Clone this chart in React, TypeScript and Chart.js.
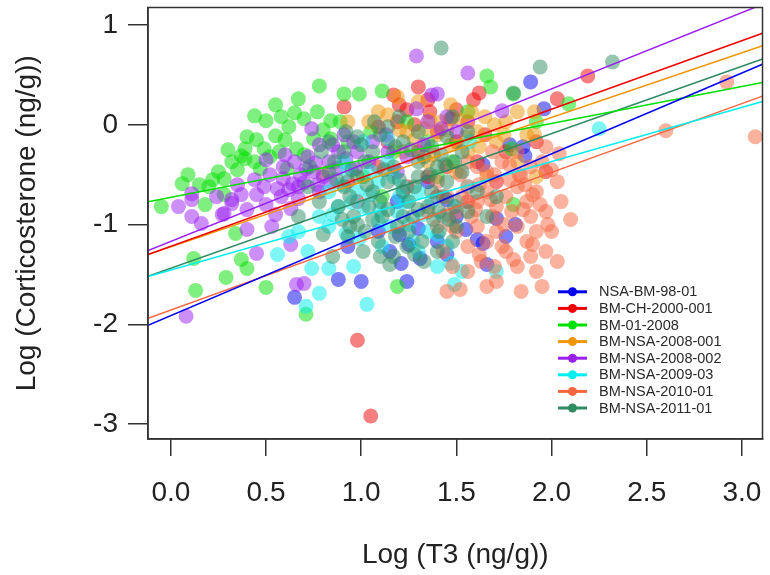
import React, { useEffect, useRef } from "react";
import { Chart, registerables } from "chart.js";

Chart.register(...registerables);
Chart.defaults.font.family = '"Liberation Sans", Arial, Helvetica, sans-serif';

const groupNames = [
  "NSA-BM-98-01",
  "BM-CH-2000-001",
  "BM-01-2008",
  "BM-NSA-2008-001",
  "BM-NSA-2008-002",
  "BM-NSA-2009-03",
  "BM-NSA-2010-01",
  "BM-NSA-2011-01",
];
const groupColors = ["#0000EE", "#EE0000", "#00E000", "#F0960A", "#9A20F0", "#00EEEE", "#F5653F", "#2E8B62"];

// regression lines: y = a + b x
const intercepts = [-1.913, -1.218, -0.726, -1.222, -1.17, -1.455, -1.857, -1.439];
const slopes = [0.811, 0.687, 0.37, 0.648, 0.765, 0.543, 0.69, 0.675];

const xTickValues = [0, 0.5, 1, 1.5, 2, 2.5, 3];
const xTickLabels = ["0.0", "0.5", "1.0", "1.5", "2.0", "2.5", "3.0"];
const yTickValues = [-3, -2, -1, 0, 1];
const yTickLabels = ["-3", "-2", "-1", "0", "1"];
const xRange = [-0.12, 3.108];
const yRange = [-3.15, 1.176];

const ptsNsaBm9801: number[][] = [
  [0.65, -1.73], [0.88, -1.55], [1.0, -1.57], [1.24, -1.57], [1.66, -1.4], [1.71, -0.94], [1.81, -1.0],
  [1.64, -1.19], [1.15, -1.27], [1.21, -1.39], [1.3, -1.04], [1.45, -1.3], [1.61, -1.15], [1.31, -1.34],
  [1.89, 0.43], [1.96, 0.16], [1.86, -0.31], [1.64, -0.4], [1.35, -0.57], [1.19, -0.77], [1.5, -0.92],
  [1.09, -1.07], [1.4, -1.17], [0.93, -1.22], [1.76, -1.12], [1.85, -0.22], [1.78, -0.2],
  [1.25, -1.2], [1.55, -1.05], [1.45, -0.75], [1.2, -1.1],
];
const ptsBmCh2000: number[][] = [
  [0.91, 0.18], [1.17, 0.3], [1.3, 0.38], [1.62, 0.32], [1.36, 0.13], [1.47, 0.06], [1.59, 0.25], [2.03, 0.26],
  [1.19, 0.03], [1.24, 0.15], [1.09, -0.02], [1.4, -0.07], [1.5, -0.17], [1.56, 0.03], [1.14, -0.17],
  [1.3, -0.27], [1.45, -0.42], [1.35, -0.52], [1.61, -0.37], [1.71, -0.57], [1.24, -0.62], [0.98, -0.77],
  [0.93, -0.57], [1.56, -0.77], [1.76, -0.27], [1.92, -0.17], [1.97, -0.47], [1.09, -0.42], [1.4, -0.72],
  [0.98, -2.16], [1.05, -2.92], [2.19, 0.49],
  [1.2, 0.2], [1.35, 0.25], [1.5, 0.15], [1.28, 0.0], [1.65, -0.1],
];
const ptsBm012008: number[][] = [
  [-0.05, -0.82], [0.06, -0.59], [0.09, -0.5], [0.18, -0.8], [0.25, -0.47], [0.28, -0.54], [0.32, -0.37],
  [0.37, -0.31], [0.39, -0.24], [0.39, -0.34], [0.4, -0.12], [0.44, 0.09], [0.44, -0.37], [0.47, -0.44],
  [0.49, -0.24], [0.5, 0.04], [0.55, -0.11], [0.57, -0.27], [0.58, 0.08], [0.61, -0.44], [0.62, -0.02],
  [0.66, -0.24], [0.67, 0.26], [0.7, 0.06], [0.75, -0.14], [0.77, 0.13], [0.78, 0.39], [0.84, 0.04],
  [0.84, -0.14], [0.89, 0.03], [0.91, 0.31], [0.99, 0.31], [1.11, 0.34],
  [0.12, -1.34], [0.13, -1.66], [0.29, -1.53], [0.34, -1.09], [0.37, -1.35], [0.4, -1.44], [0.5, -1.63],
  [0.71, -1.9], [1.19, -1.62],
  [0.93, -0.17], [1.05, -0.07], [1.17, -0.27], [1.24, 0.03], [1.35, -0.17], [1.48, -0.37], [1.4, -0.52],
  [1.01, -0.52], [1.11, -0.72],
  [1.66, 0.49], [1.68, 0.38], [1.8, 0.31], [2.09, 0.21], [1.79, -0.24], [1.8, -0.8], [1.92, 0.03], [1.56, 0.13],
  [0.2, -0.62],
  [0.3, -0.25], [0.35, -0.45], [0.45, -0.15], [0.52, -0.32], [0.6, -0.15], [0.7, -0.3], [0.65, 0.12],
  [0.55, 0.2], [0.8, -0.05], [0.22, -0.55], [0.15, -0.6], [0.28, -0.7],
];
const ptsBmNsa2008a: number[][] = [
  [1.47, 0.2], [1.09, 0.13], [1.14, 0.1], [1.33, -0.04], [1.47, -0.2], [1.5, -0.17], [1.42, 0.03], [1.4, -0.1],
  [1.87, -0.1], [1.91, -0.1], [1.7, 0.0], [1.91, 0.13], [0.8, -0.49], [1.24, -0.07], [1.3, 0.23], [1.56, -0.27],
  [1.61, -0.07], [1.71, -0.17], [1.76, 0.03], [1.22, -0.27], [1.35, -0.37], [1.5, -0.47], [1.66, -0.52],
  [1.82, -0.37], [1.19, 0.28], [1.04, 0.03], [0.93, 0.03], [1.82, 0.13], [1.92, -0.52], [1.58, 0.13],
  [1.28, -0.15], [1.36, 0.05], [1.45, -0.05], [1.55, -0.12], [1.65, 0.08], [1.52, 0.05], [1.38, -0.3],
  [1.62, -0.22], [1.2, -0.05], [1.75, -0.1],
];
const ptsBmNsa2008b: number[][] = [
  [0.11, -0.69], [0.11, -0.75], [0.11, -0.92], [0.16, -0.99], [0.32, -0.75], [0.37, -0.7], [0.28, -0.89],
  [0.4, -0.85], [0.45, -0.7], [0.49, -0.62], [0.59, -0.54], [0.64, -0.59], [0.68, -0.5], [0.71, -0.44],
  [0.78, -0.2], [0.74, -0.04], [0.91, -0.1], [0.96, -0.17], [0.92, -0.34], [0.87, -0.44], [0.97, -0.44],
  [0.84, -0.57], [0.77, -0.6], [0.56, -0.64], [0.52, -0.5], [0.67, -0.74], [0.63, -0.84], [1.29, 0.69],
  [1.37, 0.3], [1.29, 0.16], [1.13, -0.1], [1.33, -0.2], [0.08, -1.92], [0.4, -1.05], [0.45, -1.29],
  [0.53, -1.02], [0.63, -1.2], [0.66, -1.6], [0.7, -1.59], [0.27, -0.9], [0.32, -0.79], [1.56, 0.52],
  [1.74, 0.14], [1.4, 0.31], [1.42, -0.04], [0.59, -0.42], [0.65, -0.37], [0.72, -0.32], [0.78, -0.67],
  [0.83, -0.37], [0.88, -0.27], [0.67, -0.62], [0.75, -0.47], [0.8, -0.52], [0.98, -0.27], [1.04, -0.37],
  [1.06, -0.17], [1.14, -0.27], [1.19, -0.47], [1.24, -0.32], [1.35, 0.03], [1.45, 0.08], [1.5, -0.07],
  [0.04, -0.82],
  [0.5, -0.8], [0.58, -0.72], [0.55, -0.9], [0.62, -0.65], [0.7, -0.58], [0.76, -0.38], [0.85, -0.2],
  [0.6, -0.3], [0.44, -0.55], [0.35, -0.6], [0.24, -0.72], [0.5, -0.35],
];
const ptsBmNsa2009: number[][] = [
  [0.56, -1.3], [0.74, -1.44], [0.83, -1.44], [0.78, -1.69], [0.71, -1.82], [1.03, -1.8], [1.47, -1.39],
  [1.53, -1.47], [1.49, -1.6], [0.92, -1.09], [0.99, -1.14], [2.25, -0.04], [1.57, -0.17], [0.67, -1.07],
  [0.78, -0.92], [0.88, -0.82], [0.98, -0.67], [1.09, -0.57], [1.17, -0.52], [1.24, -0.77], [1.3, -0.67],
  [1.19, -0.87], [1.09, -0.97], [1.35, -1.07], [1.43, -0.92], [1.5, -0.77], [1.56, -0.62], [0.93, -0.47],
  [0.83, -0.67], [1.14, -0.37], [0.72, -1.27], [0.62, -1.12], [0.96, -1.42], [1.3, -1.27], [1.4, -1.42],
  [1.71, -1.47], [1.11, -1.22], [1.14, -0.14], [1.01, -0.17],
  [0.91, -0.37], [1.05, -0.47], [1.22, -0.62], [1.37, -0.77], [1.01, -0.82], [1.15, -1.02], [1.27, -1.17],
  [0.83, -1.02], [1.45, -1.22],
  [0.95, -0.78], [1.05, -0.7], [1.2, -0.72], [1.32, -0.9], [1.1, -0.85], [0.85, -0.9], [1.25, -1.0],
  [1.4, -1.1], [0.9, -0.6],
];
const ptsBmNsa2010: number[][] = [
  [1.4, -0.57], [1.45, -0.72], [1.5, -0.87], [1.56, -0.62], [1.61, -0.77], [1.66, -0.67], [1.71, -0.82],
  [1.76, -0.72], [1.82, -0.62], [1.87, -0.77], [1.92, -0.67], [1.97, -0.87], [1.5, -1.07], [1.56, -1.22],
  [1.61, -1.02], [1.66, -1.17], [1.71, -1.07], [1.76, -1.27], [1.82, -1.02], [1.87, -1.17], [1.92, -1.07],
  [1.97, -1.27], [1.43, -1.27], [1.48, -1.42], [1.56, -1.47], [1.63, -1.37], [1.71, -1.57], [1.82, -1.42],
  [1.92, -1.47], [1.84, -1.67], [1.95, -1.62], [1.74, -0.37], [1.82, -0.27], [1.89, -0.42], [1.97, -0.22],
  [2.03, -0.57], [2.05, -0.77], [1.61, -0.42], [1.69, -0.27], [1.56, -0.37], [1.35, -0.87], [1.4, -1.02],
  [1.45, -1.67], [2.03, -1.37], [2.0, -1.07],
  [2.6, -0.06], [2.92, 0.43], [3.07, -0.12], [2.1, -0.95], [2.04, -0.29], [1.83, -0.5], [1.9, -0.7], [1.52, -1.65],
  [1.53, -0.72], [1.69, -0.92], [1.79, -0.87], [1.89, -0.92], [1.66, -0.47], [1.84, -0.52], [1.95, -0.37],
  [1.74, -1.22], [1.58, -0.92], [1.48, -1.02], [1.89, -1.32], [1.66, -1.62],
  [1.62, -0.6], [1.7, -0.5], [1.78, -0.55], [1.86, -0.6], [1.94, -0.8], [1.6, -0.85], [1.68, -0.75],
  [1.85, -0.85], [1.75, -1.0], [1.9, -1.2], [1.62, -1.3], [1.8, -1.35], [1.7, -1.42], [1.98, -1.0],
  [1.52, -0.5], [1.45, -0.9], [2.0, -0.45], [1.78, -0.4],
];
const ptsBmNsa2011: number[][] = [
  [1.42, 0.77], [2.32, 0.63], [1.8, 0.32], [1.94, 0.58], [0.83, -0.17], [0.91, -0.27], [0.98, -0.12],
  [1.06, -0.27], [1.14, -0.02], [1.22, -0.17], [1.3, -0.07], [1.37, -0.22], [1.45, -0.12], [1.53, -0.27],
  [0.83, -0.47], [0.91, -0.62], [0.98, -0.52], [1.06, -0.67], [1.14, -0.57], [1.22, -0.67], [1.3, -0.52],
  [1.37, -0.67], [1.45, -0.57], [1.53, -0.47], [0.88, -0.82], [0.96, -0.92], [1.04, -0.82], [1.11, -0.92],
  [1.19, -1.02], [1.27, -0.92], [1.35, -0.82], [1.43, -0.72], [1.5, -1.02], [0.93, -1.12], [1.01, -1.27],
  [1.09, -1.17], [1.17, -1.32], [1.24, -1.22], [1.32, -1.17], [1.4, -1.27], [1.48, -1.17], [0.78, -0.77],
  [0.72, -0.62], [0.67, -0.92], [0.85, -1.32], [1.56, -0.87], [1.61, -0.67], [1.66, -0.92], [1.71, -0.72],
  [1.3, -0.37], [1.17, -0.42], [1.4, -0.42], [1.56, -0.07], [1.48, 0.08],
  [0.86, -0.37], [0.94, -0.72], [1.02, -0.37], [1.1, -0.77], [1.18, -0.22], [1.25, -0.77], [1.33, -0.32],
  [1.41, -0.87], [1.49, -0.37], [0.94, -1.02], [1.02, -1.07], [1.1, -1.32], [1.18, -1.12], [1.25, -1.07],
  [1.33, -1.37], [1.41, -1.07], [1.49, -0.82], [0.79, -0.27], [0.73, -0.42], [0.92, -0.07], [1.07, 0.03],
  [1.2, 0.08],
  [0.87, -0.55], [0.95, -0.45], [1.03, -0.6], [1.12, -0.45], [1.2, -0.55], [1.28, -0.62], [1.36, -0.5],
  [1.44, -0.4], [0.9, -0.95], [0.98, -1.0], [1.06, -0.95], [1.14, -0.85], [1.22, -0.92], [1.3, -0.85],
  [1.38, -0.95], [1.46, -0.95], [1.0, -0.2], [1.1, -0.1], [1.26, -0.25], [1.42, -0.3], [0.8, -1.1],
  [1.15, -1.4], [1.28, -1.3],
];
const groupPoints = [
  ptsNsaBm9801, ptsBmCh2000, ptsBm012008, ptsBmNsa2008a,
  ptsBmNsa2008b, ptsBmNsa2009, ptsBmNsa2010, ptsBmNsa2011,
];

function withAlpha(hex: string, a: number) {
  const n = parseInt(hex.slice(1), 16);
  return `rgba(${(n >> 16) & 255},${(n >> 8) & 255},${n & 255},${a})`;
}

const boxPlugin = {
  id: "plotBox",
  afterDatasetsDraw(chart: any) {
    const { ctx, chartArea } = chart;
    ctx.save();
    ctx.strokeStyle = "#333";
    ctx.lineWidth = 1.5;
    ctx.strokeRect(chartArea.left, chartArea.top, chartArea.right - chartArea.left, chartArea.bottom - chartArea.top);
    ctx.restore();
  },
};

const insetLegend = {
  id: "insetLegend",
  afterDraw(chart: any) {
    const { ctx, chartArea } = chart;
    const x0 = chartArea.left + 410;
    const y0 = chartArea.top + 284.3;
    const step = 16.6;
    ctx.save();
    ctx.font = '14.5px "Liberation Sans", Arial, sans-serif';
    ctx.textBaseline = "middle";
    ctx.textAlign = "left";
    groupNames.forEach((name, i) => {
      const y = y0 + i * step;
      ctx.strokeStyle = groupColors[i];
      ctx.lineWidth = 3;
      ctx.beginPath();
      ctx.moveTo(x0, y);
      ctx.lineTo(x0 + 29, y);
      ctx.stroke();
      ctx.fillStyle = groupColors[i];
      ctx.beginPath();
      ctx.arc(x0 + 14.5, y, 4.5, 0, Math.PI * 2);
      ctx.fill();
      ctx.fillStyle = "#2a2a2a";
      ctx.fillText(name, x0 + 41, y + 0.5);
    });
    ctx.restore();
  },
};

export default function App() {
  const ref = useRef<HTMLCanvasElement>(null);
  useEffect(() => {
    if (!ref.current) return;
    const datasets: any[] = [];
    groupPoints.forEach((pts, i) => {
      datasets.push({
        type: "scatter",
        label: groupNames[i],
        data: pts.map(([x, y]) => ({ x, y })),
        backgroundColor: withAlpha(groupColors[i], 0.5),
        borderWidth: 0,
        pointRadius: 7.5,
        order: 100 - i,
      });
    });
    intercepts.forEach((a, i) => {
      datasets.push({
        type: "line",
        label: groupNames[i] + " fit",
        data: xRange.map((x) => ({ x, y: a + slopes[i] * x })),
        borderColor: groupColors[i],
        borderWidth: 1.5,
        pointRadius: 0,
        fill: false,
        tension: 0,
        order: i,
      });
    });
    const tickFont = { size: 28 };
    const chart = new Chart(ref.current, {
      type: "scatter",
      data: { datasets },
      options: {
        responsive: true,
        maintainAspectRatio: false,
        animation: false,
        events: [],
        layout: { padding: { top: 5, right: 2, left: 0, bottom: 0 } },
        plugins: { legend: { display: false }, tooltip: { enabled: false } },
        scales: {
          x: {
            type: "linear",
            min: xRange[0],
            max: xRange[1],
            afterBuildTicks: (s: any) => {
              s.ticks = xTickValues.map((v) => ({ value: v }));
            },
            afterFit: (s: any) => {
              s.height = 136;
              s.paddingLeft = 0;
              s.paddingRight = 0;
            },
            ticks: {
              callback: (v: any) => xTickLabels[xTickValues.indexOf(Number(v))] ?? String(v),
              font: tickFont,
              color: "#222",
              padding: 20,
              maxRotation: 0,
              minRotation: 0,
              autoSkip: false,
            },
            grid: { drawOnChartArea: false, drawTicks: true, tickLength: 17, color: "#333", lineWidth: 1.5 },
            border: { display: true, color: "#333", width: 1.5 },
            title: {
              display: true,
              text: "Log (T3 (ng/g))",
              font: { size: 28 },
              color: "#222",
              padding: { top: 0, bottom: 3 },
            },
          },
          y: {
            type: "linear",
            min: yRange[0],
            max: yRange[1],
            afterBuildTicks: (s: any) => {
              s.ticks = yTickValues.map((v) => ({ value: v }));
            },
            afterFit: (s: any) => {
              s.width = 148;
              s.paddingTop = 0;
              s.paddingBottom = 0;
            },
            ticks: {
              callback: (v: any) => yTickLabels[yTickValues.indexOf(Number(v))] ?? String(v),
              font: tickFont,
              color: "#222",
              padding: 10,
              autoSkip: false,
            },
            grid: { drawOnChartArea: false, drawTicks: true, tickLength: 20, color: "#333", lineWidth: 1.5 },
            border: { display: true, color: "#333", width: 1.5 },
            title: {
              display: true,
              text: "Log (Corticosterone (ng/g))",
              font: { size: 28 },
              color: "#222",
              padding: { top: 10, bottom: 0 },
            },
          },
        },
      },
      plugins: [boxPlugin, insetLegend],
    } as any);
    return () => chart.destroy();
  }, []);
  return (
    <div style={{ position: "absolute", left: 0, top: 0, width: 770, height: 575, background: "#fff" }}>
      <canvas ref={ref} />
    </div>
  );
}
